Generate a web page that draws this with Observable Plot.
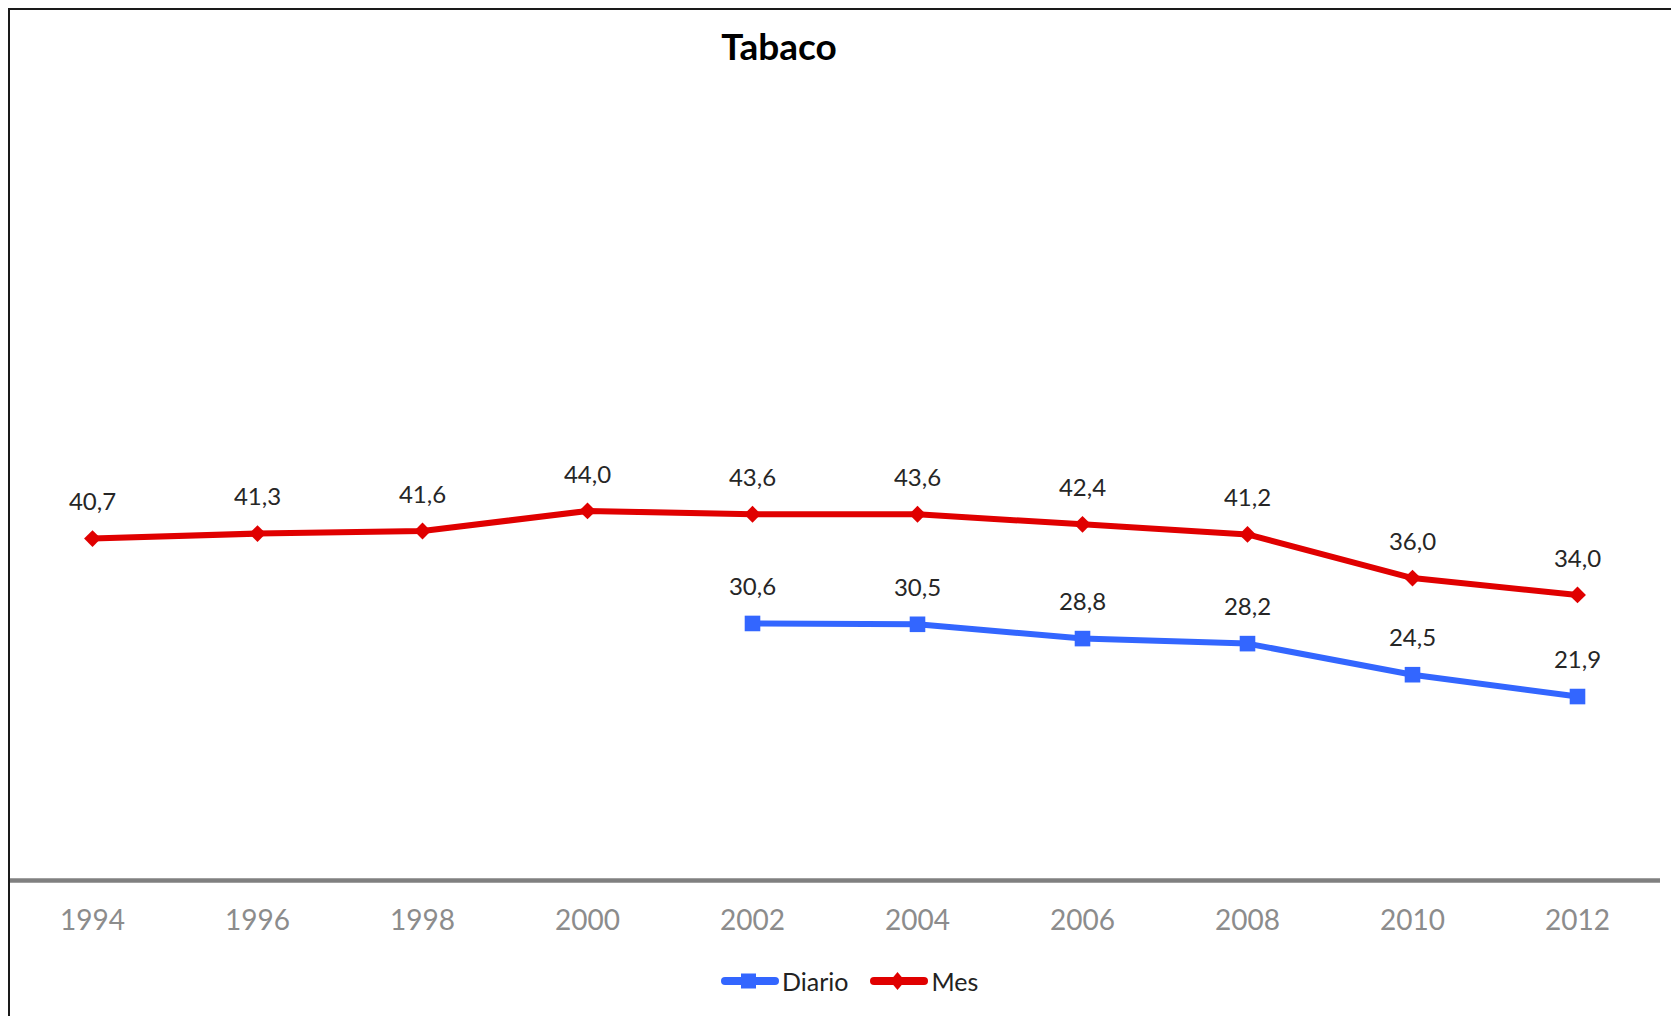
<!DOCTYPE html>
<html>
<head>
<meta charset="utf-8">
<script src="https://cdn.jsdelivr.net/npm/d3@7"></script>
<script src="https://cdn.jsdelivr.net/npm/@observablehq/plot@0.6"></script>
<style>
  html, body { margin: 0; padding: 0; background: #fff; }
  #wrap { position: relative; width: 1671px; height: 1016px; overflow: hidden; font-family: Lato, "Open Sans", sans-serif; }
  #frame { position: absolute; left: 8px; top: 8px; width: 1700px; height: 1100px; border-left: 2.5px solid #1a1a1a; border-top: 2.5px solid #1a1a1a; box-sizing: border-box; }
  #chart { position: absolute; left: 0; top: 0; }
  #title { position: absolute; left: 779px; top: 27px; transform: translateX(-50%); font-size: 37px; font-weight: bold; line-height: 37px; color: #000; white-space: nowrap; }
  #legend { position: absolute; left: 721px; top: 965px; display: flex; align-items: center; font-size: 25px; color: #222; line-height: 32px; }
  #legend .item { display: flex; align-items: center; margin-right: 22px; }
  #legend svg { display: block; margin-right: 3px; }
</style>
</head>
<body>
<div id="wrap">
  <div id="chart"></div>
  <div id="frame"></div>
  <div id="title">Tabaco</div>
  <div id="legend"></div>
</div>
<script>
// ---- data ----
const years = ["1994", "1996", "1998", "2000", "2002", "2004", "2006", "2008", "2010", "2012"];
const mesValues = [40.7, 41.3, 41.6, 44.0, 43.6, 43.6, 42.4, 41.2, 36.0, 34.0];
const diarioYears = ["2002", "2004", "2006", "2008", "2010", "2012"];
const diarioValues = [30.6, 30.5, 28.8, 28.2, 24.5, 21.9];
const seriesNames = ["Diario", "Mes"];
const seriesColors = ["#3366ff", "#e00000"];

const mes = years.map((y, i) => ({year: y, value: mesValues[i]}));
const diario = diarioYears.map((y, i) => ({year: y, value: diarioValues[i]}));
const fmt = v => v.toFixed(1).replace(".", ",");

const blue = seriesColors[0], red = seriesColors[1];

const chart = Plot.plot({
  width: 1671,
  height: 955,
  marginLeft: 8,
  marginRight: 11,
  marginTop: 40,
  marginBottom: 75,
  style: {fontFamily: "Lato, 'Open Sans', sans-serif", background: "transparent"},
  x: {type: "point", domain: years, padding: 0.5, label: null},
  y: {domain: [0, 100], axis: null},
  marks: [
    Plot.ruleY([0], {stroke: "#808080", strokeWidth: 4.5}),
    Plot.axisX({tickSize: 0, tickPadding: 30, fontSize: 28, fill: "#8c8c8c", label: null}),
    Plot.lineY(diario, {x: "year", y: "value", stroke: blue, strokeWidth: 6}),
    Plot.dot(diario, {x: "year", y: "value", symbol: "square", r: 8.8, fill: blue, stroke: null}),
    Plot.lineY(mes, {x: "year", y: "value", stroke: red, strokeWidth: 6}),
    Plot.dot(mes, {x: "year", y: "value", symbol: "diamond2", r: 7.6, fill: red, stroke: null}),
    Plot.text(mes, {x: "year", y: "value", text: d => fmt(d.value), dy: -36, fontSize: 24, fill: "#262626"}),
    Plot.text(diario, {x: "year", y: "value", text: d => fmt(d.value), dy: -36, fontSize: 24, fill: "#262626"})
  ]
});
document.getElementById("chart").appendChild(chart);

// ---- legend ----
const legend = document.getElementById("legend");
seriesNames.forEach((name, i) => {
  const item = document.createElement("div");
  item.className = "item";
  const c = seriesColors[i];
  const marker = i === 0
    ? `<rect x="20" y="8.5" width="15" height="15" fill="${c}"/>`
    : `<path d="M27.5 7 L35 16 L27.5 25 L20 16 Z" fill="${c}"/>`;
  item.innerHTML = `<svg width="58" height="32"><line x1="4" y1="16" x2="54" y2="16" stroke="${c}" stroke-width="8" stroke-linecap="round"/>${marker}</svg><span>${name}</span>`;
  legend.appendChild(item);
});
</script>
</body>
</html>
